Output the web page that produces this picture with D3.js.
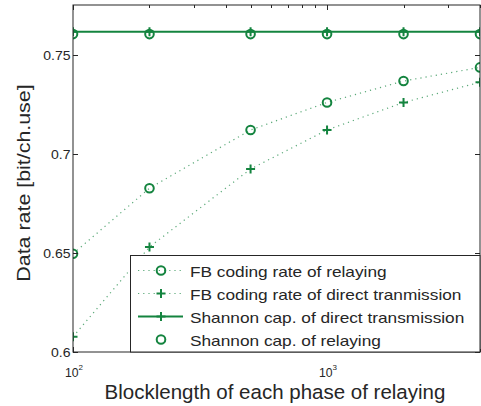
<!DOCTYPE html>
<html>
<head>
<meta charset="utf-8">
<script src="https://cdnjs.cloudflare.com/ajax/libs/d3/7.8.5/d3.min.js"></script>
<style>
  body { margin: 0; background: #fff; }
  svg { display: block; font-family: "Liberation Sans", Arial, sans-serif; }
</style>
</head>
<body>
<svg id="chart" width="481" height="406"></svg>
<script>
// data
const blocklengths = [100, 200, 500, 1000, 2000, 4000];
const fbRelaying = [0.6496, 0.6827, 0.7121, 0.7260, 0.7368, 0.7437];
const fbDirect = [0.6077, 0.6530, 0.6924, 0.7121, 0.7260, 0.7362];
const shannonDirect = [0.7617, 0.7617, 0.7617, 0.7617, 0.7617, 0.7617];
const shannonRelaying = [0.7605, 0.7605, 0.7605, 0.7605, 0.7605, 0.7605];
const yTicks = [0.6, 0.65, 0.7, 0.75];
const xMajor = [100, 1000];
const xMinor = [200, 300, 400, 500, 600, 700, 800, 900, 2000, 3000, 4000];
const legendLabels = [
    'FB coding rate of relaying',
    'FB coding rate of direct tranmission',
    'Shannon cap. of direct transmission',
    'Shannon cap. of relaying'
];

const green = '#14843f';
const ink = '#262626';

const svg = d3.select('#chart');
const pLeft = 73, pRight = 480, pTop = 5, pBottom = 352;

const x = d3.scaleLog().domain([100, 4000]).range([pLeft, pRight]);
const y = d3.scaleLinear().domain([0.6, 0.7752]).range([pBottom, pTop]);

// the original's font runs wider than Arial, so widen text a bit
function widen(sel, k) {
    sel.each(function () {
        const w = this.getComputedTextLength();
        d3.select(this).attr('textLength', w * k).attr('lengthAdjust', 'spacingAndGlyphs');
    });
    return sel;
}

svg.append('clipPath').attr('id', 'clip')
    .append('rect').attr('x', pLeft).attr('y', pTop)
    .attr('width', pRight - pLeft).attr('height', pBottom - pTop);

const line = d3.line().x((d, i) => x(blocklengths[i])).y(d => y(d));

function circles(g, vals) {
    g.selectAll(null).data(vals).join('circle')
        .attr('cx', (d, i) => x(blocklengths[i]))
        .attr('cy', d => y(d))
        .attr('r', 4.3)
        .attr('fill', 'none')
        .attr('stroke', green)
        .attr('stroke-width', 2);
}

function pluses(g, vals) {
    g.selectAll(null).data(vals).join('path')
        .attr('d', (d, i) => {
            const cx = x(blocklengths[i]), cy = y(d), s = 4.5;
            return `M${cx - s},${cy}H${cx + s}M${cx},${cy - s}V${cy + s}`;
        })
        .attr('stroke', green)
        .attr('stroke-width', 2);
}

const dataG = svg.append('g').attr('clip-path', 'url(#clip)');

// FB relaying: dotted + circles
dataG.append('path').datum(fbRelaying).attr('d', line)
    .attr('fill', 'none').attr('stroke', green).attr('stroke-opacity', 0.7)
    .attr('stroke-width', 1.2).attr('stroke-dasharray', '1.2,4');
circles(dataG.append('g'), fbRelaying);

// FB direct: dotted + pluses
dataG.append('path').datum(fbDirect).attr('d', line)
    .attr('fill', 'none').attr('stroke', green).attr('stroke-opacity', 0.7)
    .attr('stroke-width', 1.2).attr('stroke-dasharray', '1.2,4');
pluses(dataG.append('g'), fbDirect);

// Shannon direct: solid + pluses
dataG.append('path').datum(shannonDirect).attr('d', line)
    .attr('fill', 'none').attr('stroke', green).attr('stroke-width', 2);
pluses(dataG.append('g'), shannonDirect);

// Shannon relaying: circles only
circles(dataG.append('g'), shannonRelaying);

// box and ticks
const axisG = svg.append('g');
axisG.append('rect')
    .attr('x', pLeft).attr('y', pTop)
    .attr('width', pRight - pLeft).attr('height', pBottom - pTop)
    .attr('fill', 'none').attr('stroke', ink).attr('stroke-width', 1);

const tickPath = [];
yTicks.forEach(t => {
    const yy = Math.round(y(t)) + 0.5;
    tickPath.push(`M${pLeft},${yy}h5`, `M${pRight},${yy}h-5`);
});
xMajor.forEach(t => {
    const xx = Math.round(x(t)) + 0.5;
    tickPath.push(`M${xx},${pBottom}v-5`, `M${xx},${pTop}v5`);
});
xMinor.forEach(t => {
    const xx = Math.round(x(t)) + 0.5;
    tickPath.push(`M${xx},${pBottom}v-3`, `M${xx},${pTop}v3`);
});
axisG.append('path').attr('d', tickPath.join(''))
    .attr('stroke', ink).attr('stroke-width', 1).attr('fill', 'none');

// y tick labels
const yl = axisG.selectAll(null).data(yTicks).join('text')
    .attr('y', d => y(d) + 4.6)
    .attr('font-size', 12.2)
    .attr('fill', ink)
    .text(d => d3.format('.2~f')(d));
widen(yl, 1.15);
yl.attr('x', function () { return 70.5 - (+this.getAttribute('textLength')); });

// x tick labels 10^k
const xl = axisG.selectAll(null).data(xMajor).join('text')
    .attr('x', d => x(d) - 8)
    .attr('y', 377)
    .attr('font-size', 12.2)
    .attr('fill', ink);
xl.append('tspan').text('10');
xl.append('tspan').attr('dy', -7).attr('font-size', 8).text(d => Math.round(Math.log10(d)));

// axis titles
svg.append('text')
    .attr('x', 275).attr('y', 399)
    .attr('text-anchor', 'middle')
    .attr('font-size', 20.5)
    .attr('fill', ink)
    .text('Blocklength of each phase of relaying');

const ylab = svg.append('text')
    .attr('font-size', 18.6)
    .attr('fill', ink)
    .text('Data rate [bit/ch.use]');
widen(ylab, 1.15);
ylab.attr('transform', `translate(30,${183 + ylab.attr('textLength') / 2}) rotate(-90)`);

// legend
const lg = svg.append('g');
lg.append('rect')
    .attr('x', 130.5).attr('y', 255.5)
    .attr('width', pRight - 130.5).attr('height', pBottom - 255.5)
    .attr('fill', '#fff').attr('stroke', ink).attr('stroke-width', 1);

const rowY = d3.scalePoint().domain(legendLabels).range([270.5, 339.5]);
const styles = [
    {dash: true, marker: 'o'},
    {dash: true, marker: '+'},
    {dash: false, marker: '+'},
    {dash: null, marker: 'o'}
];
legendLabels.forEach((lab, i) => {
    const yy = rowY(lab);
    const st = styles[i];
    if (st.dash !== null) {
        lg.append('line').attr('x1', 138).attr('x2', 183).attr('y1', yy).attr('y2', yy)
            .attr('stroke', green)
            .attr('stroke-width', st.dash ? 1.2 : 2)
            .attr('stroke-opacity', st.dash ? 0.7 : 1)
            .attr('stroke-dasharray', st.dash ? '1.2,4' : null);
    }
    if (st.marker === 'o') {
        lg.append('circle').attr('cx', 161).attr('cy', yy).attr('r', 4.3)
            .attr('fill', 'none').attr('stroke', green).attr('stroke-width', 2);
    } else {
        lg.append('path').attr('d', `M156.5,${yy}h9M161,${yy - 4.5}v9`)
            .attr('stroke', green).attr('stroke-width', 2);
    }
    const t = lg.append('text').attr('x', 190).attr('y', yy + 6.8)
        .attr('font-size', 14.5).attr('fill', ink).text(lab);
    widen(t, 1.19);
});
</script>
</body>
</html>
